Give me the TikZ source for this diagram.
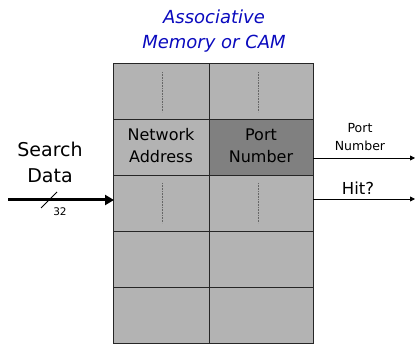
\documentclass[tikz,border=0pt]{standalone}
\usepackage{fontspec}
\setmainfont{DejaVu Sans}
\usetikzlibrary{arrows.meta}
\definecolor{cellgray}{HTML}{B3B3B3}
\definecolor{darkcell}{HTML}{808080}
\definecolor{titleblue}{RGB}{10,10,190}
\tikzset{
  cell/.style={draw=black!85, line width=0.9pt, fill=cellgray},
  hotcell/.style={cell, fill=darkcell},
  dotline/.style={black!60, line width=0.8pt, dash pattern=on 0.8pt off 0.8pt},
  outarrow/.style={line width=0.8pt, -{Triangle[length=5pt,width=5pt]}},
  label/.style={inner sep=0pt, align=center},
}
\begin{document}
\begin{tikzpicture}[x=1pt,y=-1pt]
\useasboundingbox (0,0) rectangle (415,344);
% title
\node[label, text=titleblue, font=\fontsize{18}{25}\selectfont\itshape] (title) at (214,31) {Associative\\Memory or CAM};
% memory grid
\foreach \r in {0,...,4}{
  \pgfmathsetmacro{\ya}{63+56*\r}
  \pgfmathsetmacro{\yb}{63+56*(\r+1)}
  \draw[cell] (113,\ya) rectangle (209,\yb);
  \draw[cell] (209,\ya) rectangle (313,\yb);
}
\draw[hotcell] (209,119) rectangle (313,175);
% dotted placeholders
\draw[dotline] (162,72) -- (162,112);
\draw[dotline] (258,72) -- (258,112);
\draw[dotline] (162,183) -- (162,223);
\draw[dotline] (258,183) -- (258,223);
\node[label, font=\fontsize{16}{22}\selectfont] (netaddr) at (161,146) {Network\\Address};
\node[label, font=\fontsize{16}{22}\selectfont] (portnum) at (261,146) {Port\\Number};
% search input
\node[label, font=\fontsize{19}{26}\selectfont] (search) at (50,162) {Search\\Data};
\coordinate (inA) at (8,200);
\coordinate (inB) at (113,200);
\draw[line width=3pt, -{Triangle[length=9pt,width=10pt]}, shorten >=-1pt] (inA) -- (inB);
\coordinate (slA) at (41,208);
\coordinate (slB) at (57,192);
\draw[line width=0.8pt] (slA) -- (slB);
\node[label, font=\fontsize{10.5}{12}\selectfont] (width) at (60,212) {32};
% outputs
\coordinate (pA) at (313,158);
\coordinate (pB) at (415,158);
\draw[outarrow] (pA) -- (pB);
\node[label, font=\fontsize{12.5}{18}\selectfont] (portlbl) at (360,137) {Port\\Number};
\coordinate (hA) at (313,199);
\coordinate (hB) at (415,199);
\draw[outarrow] (hA) -- (hB);
\node[label, font=\fontsize{16.5}{18}\selectfont] (hit) at (358,188) {Hit?};
\end{tikzpicture}
\end{document}
